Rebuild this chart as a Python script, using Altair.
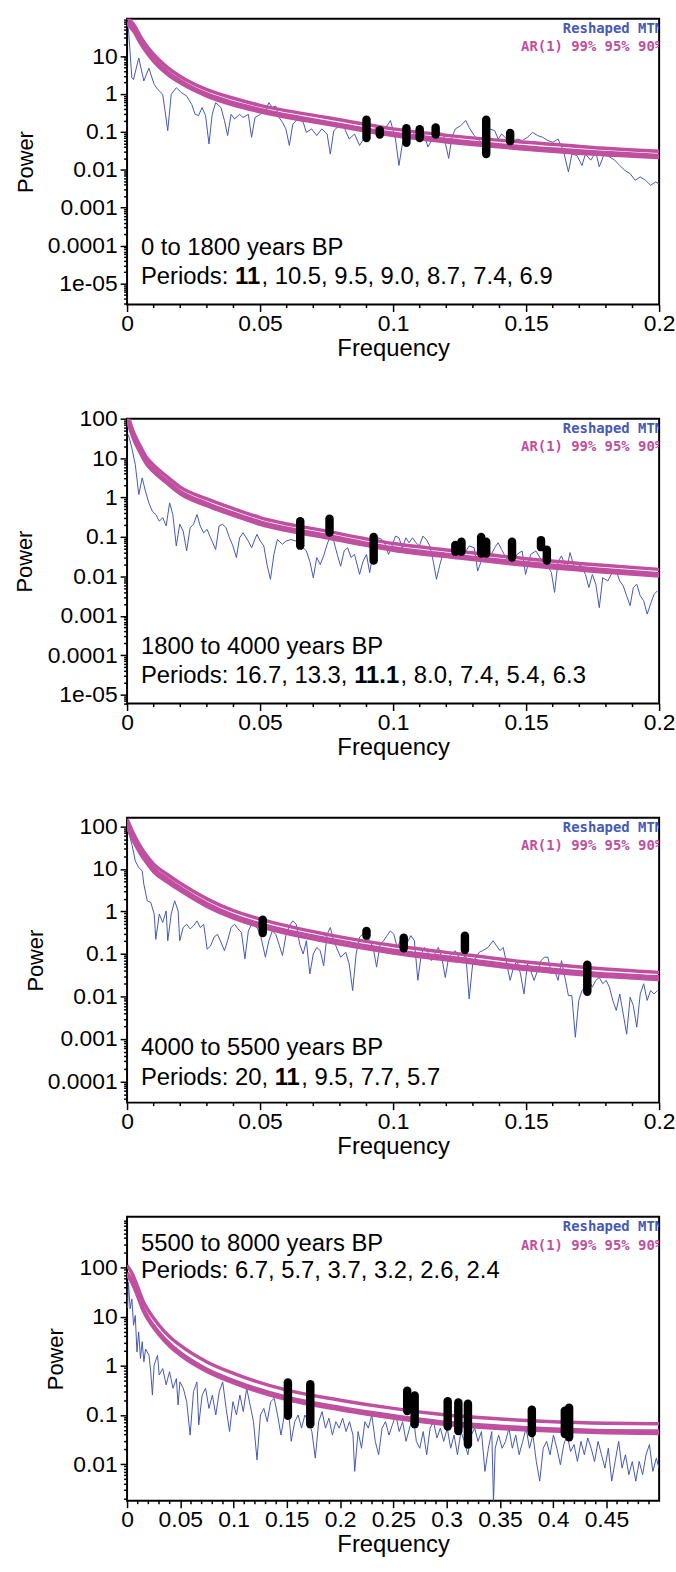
import altair as alt
import pandas as pd

BLUE = "#4658b8"
MAG = "#bf4f9f"
FONT = "Liberation Sans"
MONO = "DejaVu Sans Mono"
W = 536

# ---------------- Panel 1 : 0 to 1800 years BP ----------------
P1_SPEC = [(0.0005, 54), (0.0018, 2.7), (0.0024, 2.4), (0.0044, 8.9), (0.0063, 2.2), (0.0082, 4.8), (0.0102, 1.78),
           (0.0115, 1.32), (0.0134, 0.98), (0.0153, 0.108), (0.0166, 0.98), (0.0185, 1.46), (0.0205, 1.08), (0.0224, 0.88),
           (0.0243, 0.53), (0.0256, 0.29), (0.0269, 0.27), (0.0282, 0.44), (0.0295, 0.27), (0.0308, 0.048), (0.0320, 0.29),
           (0.0333, 0.59), (0.0353, 0.44), (0.0366, 0.20), (0.0378, 0.080), (0.0391, 0.29), (0.0404, 0.22), (0.0423, 0.29),
           (0.0436, 0.24), (0.0456, 0.29), (0.0468, 0.072), (0.0481, 0.24), (0.0501, 0.29), (0.0520, 0.36), (0.0533, 0.59),
           (0.0546, 0.44), (0.0559, 0.48), (0.0571, 0.24), (0.0584, 0.18), (0.0597, 0.12), (0.0610, 0.044), (0.0623, 0.16),
           (0.0642, 0.22), (0.0662, 0.18), (0.0674, 0.097), (0.0694, 0.12), (0.0713, 0.080), (0.0732, 0.12), (0.0752, 0.088),
           (0.0764, 0.026), (0.0777, 0.108), (0.0797, 0.145), (0.0816, 0.13), (0.0835, 0.065), (0.0855, 0.088), (0.0874, 0.044),
           (0.0893, 0.072), (0.0912, 0.097), (0.0932, 0.12), (0.0951, 0.13), (0.0970, 0.12), (0.0990, 0.20), (0.1009, 0.065),
           (0.1022, 0.013), (0.1035, 0.048), (0.1054, 0.108), (0.1073, 0.080), (0.1093, 0.13), (0.1112, 0.108), (0.1131, 0.040),
           (0.1151, 0.072), (0.1170, 0.097), (0.1189, 0.088), (0.1209, 0.020), (0.1221, 0.072), (0.1234, 0.12), (0.1254, 0.145),
           (0.1273, 0.20), (0.1286, 0.13), (0.1305, 0.080), (0.1324, 0.059), (0.1344, 0.048), (0.1363, 0.12), (0.1382, 0.108),
           (0.1395, 0.065), (0.1408, 0.088), (0.1427, 0.065), (0.1447, 0.053), (0.1466, 0.065), (0.1485, 0.059), (0.1505, 0.072),
           (0.1524, 0.097), (0.1543, 0.080), (0.1562, 0.072), (0.1582, 0.059), (0.1601, 0.053), (0.1620, 0.065), (0.1640, 0.032),
           (0.1659, 0.0088), (0.1672, 0.026), (0.1691, 0.024), (0.1710, 0.013), (0.1723, 0.026), (0.1743, 0.018), (0.1762, 0.029),
           (0.1775, 0.012), (0.1794, 0.026), (0.1813, 0.022), (0.1833, 0.018), (0.1852, 0.013), (0.1871, 0.0097), (0.1891, 0.0079),
           (0.1910, 0.0053), (0.1929, 0.0065), (0.1949, 0.0053), (0.1968, 0.0039), (0.1987, 0.0048), (0.2000, 0.0042)]
AR_F = [0, 0.0025, 0.005, 0.0075, 0.01, 0.015, 0.02, 0.03, 0.04, 0.05, 0.075, 0.1, 0.125, 0.15, 0.175, 0.2]
P1_AR99 = [105, 68, 33, 18, 11, 5.1, 2.9, 1.3, 0.77, 0.5, 0.24, 0.12, 0.075, 0.053, 0.039, 0.031]
P1_AR95 = [80, 52, 25, 14, 8.4, 3.9, 2.25, 1.0, 0.59, 0.39, 0.18, 0.092, 0.058, 0.040, 0.030, 0.024]
P1_AR90 = [70, 45, 22, 12, 7.3, 3.4, 1.96, 0.88, 0.51, 0.34, 0.16, 0.080, 0.050, 0.035, 0.026, 0.021]
P1_BARS = [(0.090, 0.21, 0.069), (0.095, 0.11, 0.085), (0.105, 0.125, 0.052), (0.110, 0.118, 0.069),
           (0.116, 0.13, 0.085), (0.135, 0.21, 0.026), (0.144, 0.094, 0.057)]

# ---------------- Panel 2 : 1800 to 4000 years BP ----------------
P2_SPEC = [(0.0005, 39), (0.0018, 18), (0.0031, 6.8), (0.0044, 1.19), (0.0057, 3.15), (0.0069, 1.45), (0.0082, 0.73),
           (0.0095, 0.45), (0.0108, 0.37), (0.0121, 0.25), (0.0134, 0.31), (0.0147, 0.19), (0.0160, 0.73), (0.0172, 0.37),
           (0.0185, 0.059), (0.0198, 0.21), (0.0211, 0.14), (0.0224, 0.044), (0.0237, 0.17), (0.0250, 0.21), (0.0263, 0.37),
           (0.0275, 0.19), (0.0288, 0.127), (0.0301, 0.155), (0.0314, 0.095), (0.0333, 0.048), (0.0346, 0.19), (0.0359, 0.21),
           (0.0372, 0.17), (0.0385, 0.095), (0.0398, 0.059), (0.0411, 0.030), (0.0423, 0.095), (0.0436, 0.127), (0.0456, 0.078),
           (0.0468, 0.053), (0.0488, 0.116), (0.0501, 0.078), (0.0514, 0.059), (0.0526, 0.020), (0.0539, 0.0084), (0.0552, 0.036),
           (0.0565, 0.086), (0.0584, 0.065), (0.0597, 0.078), (0.0616, 0.086), (0.0636, 0.078), (0.0649, 0.059), (0.0662, 0.053),
           (0.0674, 0.044), (0.0687, 0.024), (0.0700, 0.0092), (0.0713, 0.030), (0.0726, 0.020), (0.0739, 0.033), (0.0752, 0.065),
           (0.0764, 0.105), (0.0777, 0.078), (0.0790, 0.036), (0.0803, 0.018), (0.0816, 0.044), (0.0829, 0.053), (0.0842, 0.030),
           (0.0855, 0.036), (0.0874, 0.0112), (0.0887, 0.024), (0.0900, 0.036), (0.0912, 0.0124), (0.0925, 0.040), (0.0945, 0.095),
           (0.0958, 0.086), (0.0970, 0.065), (0.0983, 0.036), (0.0996, 0.059), (0.1009, 0.105), (0.1022, 0.095), (0.1035, 0.053),
           (0.1048, 0.095), (0.1060, 0.071), (0.1073, 0.095), (0.1086, 0.071), (0.1099, 0.059), (0.1112, 0.105), (0.1125, 0.086),
           (0.1138, 0.059), (0.1151, 0.024), (0.1163, 0.0084), (0.1176, 0.020), (0.1189, 0.040), (0.1209, 0.030), (0.1228, 0.040),
           (0.1247, 0.059), (0.1266, 0.036), (0.1286, 0.059), (0.1305, 0.053), (0.1318, 0.0136), (0.1331, 0.024), (0.1350, 0.036),
           (0.1369, 0.036), (0.1382, 0.053), (0.1395, 0.071), (0.1408, 0.048), (0.1427, 0.027), (0.1447, 0.022), (0.1466, 0.036),
           (0.1485, 0.044), (0.1498, 0.0112), (0.1517, 0.036), (0.1537, 0.044), (0.1556, 0.027), (0.1575, 0.022), (0.1595, 0.0124),
           (0.1607, 0.0039), (0.1620, 0.024), (0.1633, 0.033), (0.1653, 0.015), (0.1665, 0.040), (0.1685, 0.0136), (0.1704, 0.020),
           (0.1723, 0.0112), (0.1736, 0.0052), (0.1749, 0.0112), (0.1762, 0.0063), (0.1775, 0.0016), (0.1788, 0.0092),
           (0.1807, 0.0076), (0.1820, 0.0112), (0.1839, 0.0136), (0.1852, 0.0076), (0.1865, 0.0057), (0.1878, 0.0032),
           (0.1891, 0.0018), (0.1903, 0.0052), (0.1916, 0.0063), (0.1929, 0.0032), (0.1942, 0.0024), (0.1955, 0.0011),
           (0.1968, 0.0020), (0.1981, 0.0035), (0.1994, 0.0043)]
P2_AR99 = [140, 44, 20, 10, 6.6, 3.4, 1.84, 0.92, 0.52, 0.31, 0.14, 0.068, 0.043, 0.028, 0.020, 0.015]
P2_AR95 = [109, 35, 15.5, 7.8, 5.2, 2.6, 1.43, 0.71, 0.40, 0.24, 0.11, 0.053, 0.033, 0.022, 0.0155, 0.0117]
P2_AR90 = [95, 30, 13.5, 6.8, 4.5, 2.3, 1.24, 0.62, 0.35, 0.21, 0.095, 0.046, 0.029, 0.019, 0.0135, 0.0102]
P2_BARS = [(0.0651, 0.25, 0.06), (0.0761, 0.29, 0.13), (0.0927, 0.10, 0.025), (0.1234, 0.062, 0.042),
           (0.1257, 0.075, 0.042), (0.1331, 0.10, 0.038), (0.1350, 0.075, 0.038), (0.1447, 0.075, 0.030),
           (0.1556, 0.083, 0.055), (0.1578, 0.047, 0.025)]

# ---------------- Panel 3 : 4000 to 5500 years BP ----------------
P3_SPEC = [(0.0005, 78), (0.0018, 38), (0.0031, 15.4), (0.0044, 10.7), (0.0057, 9.0), (0.0063, 4.4), (0.0076, 1.78),
           (0.0089, 1.63), (0.0102, 0.87), (0.0108, 0.22), (0.0121, 0.87), (0.0134, 0.55), (0.0147, 1.03), (0.0153, 0.205),
           (0.0166, 0.87), (0.0179, 1.78), (0.0192, 1.03), (0.0198, 0.205), (0.0211, 0.42), (0.0224, 0.50), (0.0237, 0.39),
           (0.0250, 0.46), (0.0263, 0.60), (0.0275, 0.42), (0.0288, 0.50), (0.0301, 0.13), (0.0314, 0.155), (0.0327, 0.25),
           (0.0340, 0.29), (0.0353, 0.19), (0.0366, 0.12), (0.0378, 0.205), (0.0391, 0.42), (0.0404, 0.50), (0.0417, 0.39),
           (0.0430, 0.32), (0.0443, 0.077), (0.0456, 0.35), (0.0468, 0.50), (0.0488, 0.42), (0.0501, 0.29), (0.0520, 0.084),
           (0.0533, 0.205), (0.0546, 0.35), (0.0559, 0.29), (0.0571, 0.17), (0.0584, 0.092), (0.0597, 0.27), (0.0610, 0.46),
           (0.0623, 0.60), (0.0636, 0.50), (0.0649, 0.17), (0.0662, 0.10), (0.0674, 0.205), (0.0687, 0.034), (0.0700, 0.10),
           (0.0713, 0.143), (0.0726, 0.12), (0.0739, 0.053), (0.0752, 0.29), (0.0764, 0.42), (0.0777, 0.205), (0.0790, 0.13),
           (0.0803, 0.084), (0.0822, 0.11), (0.0835, 0.058), (0.0848, 0.0138), (0.0861, 0.10), (0.0874, 0.25), (0.0893, 0.32),
           (0.0912, 0.205), (0.0925, 0.143), (0.0938, 0.049), (0.0951, 0.17), (0.0964, 0.205), (0.0977, 0.27), (0.0990, 0.35),
           (0.1003, 0.29), (0.1015, 0.143), (0.1028, 0.205), (0.1041, 0.25), (0.1054, 0.19), (0.1067, 0.27), (0.1080, 0.205),
           (0.1093, 0.024), (0.1106, 0.10), (0.1118, 0.143), (0.1131, 0.11), (0.1144, 0.070), (0.1157, 0.10), (0.1170, 0.143),
           (0.1183, 0.084), (0.1196, 0.028), (0.1209, 0.084), (0.1221, 0.10), (0.1234, 0.12), (0.1247, 0.084), (0.1260, 0.070),
           (0.1273, 0.10), (0.1286, 0.0088), (0.1299, 0.058), (0.1311, 0.084), (0.1324, 0.11), (0.1337, 0.12), (0.1357, 0.143),
           (0.1376, 0.205), (0.1389, 0.155), (0.1402, 0.12), (0.1414, 0.143), (0.1427, 0.058), (0.1440, 0.024), (0.1453, 0.049),
           (0.1466, 0.070), (0.1479, 0.034), (0.1492, 0.0115), (0.1505, 0.058), (0.1517, 0.041), (0.1530, 0.024), (0.1543, 0.041),
           (0.1556, 0.070), (0.1569, 0.084), (0.1582, 0.084), (0.1595, 0.034), (0.1607, 0.041), (0.1620, 0.024), (0.1633, 0.070),
           (0.1646, 0.028), (0.1659, 0.0105), (0.1672, 0.0105), (0.1685, 0.0011), (0.1698, 0.0081), (0.1710, 0.0138),
           (0.1723, 0.0166), (0.1736, 0.024), (0.1749, 0.0166), (0.1762, 0.024), (0.1775, 0.028), (0.1788, 0.020), (0.1801, 0.024),
           (0.1813, 0.0166), (0.1826, 0.0081), (0.1839, 0.0047), (0.1852, 0.0115), (0.1865, 0.0039), (0.1878, 0.0013),
           (0.1891, 0.0096), (0.1903, 0.0061), (0.1916, 0.0019), (0.1929, 0.0115), (0.1942, 0.020), (0.1955, 0.0081),
           (0.1968, 0.0138), (0.1981, 0.0115), (0.1994, 0.0138)]
P3_AR99 = [150, 66, 34, 20, 12.9, 7.5, 4.6, 1.98, 1.04, 0.66, 0.29, 0.158, 0.100, 0.065, 0.047, 0.037]
P3_AR95 = [115, 51, 26.5, 15.8, 10.1, 5.9, 3.6, 1.54, 0.81, 0.51, 0.23, 0.123, 0.078, 0.050, 0.036, 0.029]
P3_AR90 = [100, 44, 23, 13.6, 8.6, 5.0, 3.1, 1.32, 0.70, 0.44, 0.195, 0.106, 0.067, 0.043, 0.031, 0.025]
P3_BARS = [(0.051, 0.64, 0.31), (0.090, 0.35, 0.27), (0.104, 0.24, 0.136), (0.127, 0.27, 0.124), (0.173, 0.056, 0.013)]

# ---------------- Panel 4 : 5500 to 8000 years BP ----------------
P4_SPEC = [(0.0005, 15), (0.0013, 50), (0.0029, 14.5), (0.0045, 23), (0.0061, 6.7), (0.0077, 10.6), (0.0093, 1.92),
           (0.0109, 4.9), (0.0126, 1.41), (0.0142, 3.1), (0.0158, 1.21), (0.0174, 2.2), (0.0206, 1.64), (0.0222, 0.76),
           (0.0238, 0.254), (0.0254, 1.03), (0.0286, 1.64), (0.0302, 0.65), (0.0335, 0.88), (0.0367, 0.41), (0.0399, 0.76),
           (0.0431, 0.35), (0.0463, 0.55), (0.0479, 0.16), (0.0496, 0.47), (0.0528, 0.35), (0.0560, 0.186), (0.0592, 0.039),
           (0.0624, 0.30), (0.0656, 0.47), (0.0673, 0.063), (0.0705, 0.254), (0.0737, 0.35), (0.0769, 0.136), (0.0801, 0.254),
           (0.0833, 0.10), (0.0866, 0.30), (0.0898, 0.47), (0.0930, 0.136), (0.0962, 0.046), (0.0994, 0.186), (0.1027, 0.10),
           (0.1059, 0.254), (0.1091, 0.117), (0.1123, 0.35), (0.1155, 0.16), (0.1187, 0.073), (0.1220, 0.0122), (0.1252, 0.10),
           (0.1284, 0.136), (0.1316, 0.073), (0.1348, 0.186), (0.1381, 0.218), (0.1413, 0.10), (0.1445, 0.039), (0.1477, 0.10),
           (0.1509, 0.186), (0.1541, 0.029), (0.1574, 0.073), (0.1606, 0.10), (0.1638, 0.054), (0.1670, 0.10), (0.1702, 0.073),
           (0.1735, 0.046), (0.1767, 0.0132), (0.1799, 0.073), (0.1831, 0.117), (0.1863, 0.054), (0.1895, 0.086), (0.1928, 0.039),
           (0.1960, 0.073), (0.1992, 0.054), (0.2024, 0.086), (0.2056, 0.046), (0.2088, 0.073), (0.2121, 0.039), (0.2137, 0.0071),
           (0.2169, 0.046), (0.2201, 0.021), (0.2233, 0.073), (0.2265, 0.054), (0.2298, 0.10), (0.2330, 0.029), (0.2362, 0.0155),
           (0.2394, 0.054), (0.2426, 0.073), (0.2459, 0.039), (0.2491, 0.063), (0.2523, 0.10), (0.2555, 0.046), (0.2587, 0.073),
           (0.2619, 0.029), (0.2652, 0.054), (0.2684, 0.10), (0.2716, 0.029), (0.2748, 0.021), (0.2780, 0.046), (0.2813, 0.0155),
           (0.2845, 0.054), (0.2877, 0.073), (0.2909, 0.034), (0.2941, 0.054), (0.2973, 0.029), (0.3006, 0.054), (0.3038, 0.021),
           (0.3070, 0.039), (0.3102, 0.0155), (0.3134, 0.046), (0.3167, 0.029), (0.3199, 0.0155), (0.3231, 0.039), (0.3263, 0.054),
           (0.3295, 0.029), (0.3327, 0.046), (0.3360, 0.0071), (0.3392, 0.021), (0.3424, 0.046), (0.3440, 0.0017), (0.3456, 0.021),
           (0.3488, 0.039), (0.3521, 0.021), (0.3553, 0.029), (0.3585, 0.054), (0.3617, 0.021), (0.3649, 0.039), (0.3681, 0.0155),
           (0.3714, 0.029), (0.3746, 0.054), (0.3778, 0.021), (0.3810, 0.039), (0.3842, 0.0113), (0.3874, 0.0045), (0.3907, 0.021),
           (0.3939, 0.029), (0.3971, 0.0155), (0.4003, 0.039), (0.4035, 0.021), (0.4068, 0.0097), (0.4100, 0.025), (0.4132, 0.039),
           (0.4164, 0.018), (0.4196, 0.025), (0.4228, 0.0113), (0.4261, 0.029), (0.4293, 0.0155), (0.4325, 0.034), (0.4357, 0.021),
           (0.4389, 0.0113), (0.4422, 0.029), (0.4454, 0.0155), (0.4486, 0.0083), (0.4518, 0.021), (0.4550, 0.0045),
           (0.4582, 0.0113), (0.4615, 0.029), (0.4647, 0.0083), (0.4679, 0.0155), (0.4711, 0.0061), (0.4743, 0.0113),
           (0.4776, 0.0045), (0.4808, 0.0113), (0.4840, 0.0061), (0.4872, 0.0155), (0.4904, 0.025), (0.4936, 0.0071),
           (0.4969, 0.0132), (0.4994, 0.0083)]
AR_F4 = [0, 0.005, 0.01, 0.015, 0.02, 0.03, 0.04, 0.05, 0.075, 0.1, 0.15, 0.2, 0.25, 0.3, 0.35, 0.4, 0.45, 0.5]
P4_AR99 = [110, 74, 40, 21, 13.4, 6.7, 3.9, 2.6, 1.2, 0.70, 0.32, 0.20, 0.136, 0.10, 0.083, 0.073, 0.068, 0.066]
P4_AR95 = [78, 53, 28, 15, 9.5, 4.8, 2.8, 1.85, 0.85, 0.50, 0.23, 0.142, 0.097, 0.071, 0.059, 0.052, 0.048, 0.047]
P4_AR90 = [70, 47, 26, 13.5, 8.6, 4.3, 2.5, 1.66, 0.77, 0.45, 0.205, 0.128, 0.087, 0.064, 0.053, 0.047, 0.0435, 0.042]
P4_BARS = [(0.151, 0.46, 0.096), (0.172, 0.42, 0.065), (0.263, 0.31, 0.12), (0.270, 0.25, 0.065), (0.301, 0.19, 0.058),
           (0.311, 0.18, 0.047), (0.320, 0.17, 0.025), (0.380, 0.128, 0.043), (0.411, 0.122, 0.041), (0.415, 0.14, 0.035)]

# ---------------- Axis ticks ----------------
X_MAJOR_1 = [0, 0.05, 0.1, 0.15, 0.2]
X_MAJOR_4 = [0, 0.05, 0.1, 0.15, 0.2, 0.25, 0.3, 0.35, 0.4, 0.45]
X_MINOR_1 = [round(i * 0.01, 2) for i in range(21) if i % 5]
X_MINOR_4 = [round(i * 0.01, 2) for i in range(50) if i % 5]

# ---------------- Text ----------------
TITLES = ["0 to 1800 years BP", "1800 to 4000 years BP", "4000 to 5500 years BP", "5500 to 8000 years BP"]
# (text, bold, x offset in px from the start of the line)
PERIODS = [
    [("Periods: ", False, 0), ("11", True, 94.7), (", 10.5, 9.5, 9.0, 8.7, 7.4, 6.9", False, 121.4)],
    [("Periods: 16.7, 13.3, ", False, 0), ("11.1", True, 214.8), (", 8.0, 7.4, 5.4, 6.3", False, 261.5)],
    [("Periods: 20, ", False, 0), ("11", True, 134.7), (", 9.5, 7.7, 5.7", False, 161.4)],
    [("Periods: 6.7, 5.7, 3.7, 3.2, 2.6, 2.4", False, 0)],
]
LEGEND = [("Reshaped MTM", BLUE), ("AR(1) 99% 95% 90%", MAG)]

MAJOR_Y = "abs(log(datum.value)/LN10 - round(log(datum.value)/LN10)) < 0.01"
Y_LABEL = ("abs(log(datum.value)/LN10 - round(log(datum.value)/LN10)) > 0.01 ? '' : "
           "(datum.value < 0.00005 ? '1e-05' : format(datum.value, '~g'))")


def y_tick_values(lo, hi, top_major):
    vals = []
    for e in range(-7, 4):
        for m in range(1, 10):
            v = m * 10.0 ** e
            if lo <= v <= hi * 1.0001 and not (m == 1 and v > top_major * 1.0001):
                vals.append(v)
    return vals


def make_panel(spec, ar_f, ar99, ar95, ar90, bars, xmax, xmajor, xminor, ydom, top_major, height, idx,
               title_y, periods_y, ytitle_x):
    xscale = alt.Scale(domain=[0, xmax], nice=False, zero=False)
    yscale = alt.Scale(type="log", domain=ydom, nice=False)
    xaxis = alt.Axis(title="Frequency", values=xmajor, format="~g", labelOverlap=False, labelFlush=False,
                     tickSize=7)
    yaxis = alt.Axis(title="Power", values=y_tick_values(ydom[0], ydom[1], top_major), labelExpr=Y_LABEL,
                     labelOverlap=False, labelFlush=False, titleX=ytitle_x, titleBaseline="middle",
                     labelFontSize={"condition": {"test": MAJOR_Y, "value": 23}, "value": 0},
                     tickSize={"condition": {"test": MAJOR_Y, "value": 7}, "value": 3.5})

    sdf = pd.DataFrame(spec, columns=["f", "p"])
    rows = []
    for lev, vals in (("90%", ar90), ("95%", ar95), ("99%", ar99)):
        for f, p in zip(ar_f, vals):
            rows.append({"f": f, "p": p, "level": lev})
    adf = pd.DataFrame(rows)
    bdf = pd.DataFrame(bars, columns=["f", "hi", "lo"])
    mdf = pd.DataFrame({"v": xminor})

    blue = alt.Chart(sdf).mark_line(color=BLUE, strokeWidth=1, clip=True).encode(
        x=alt.X("f:Q", scale=xscale, axis=xaxis),
        y=alt.Y("p:Q", scale=yscale, axis=yaxis),
    )
    ar = alt.Chart(adf).mark_line(color=MAG, strokeWidth=3.5, clip=True, interpolate="monotone").encode(
        x=alt.X("f:Q", scale=xscale, axis=xaxis),
        y=alt.Y("p:Q", scale=yscale, axis=yaxis),
        detail="level:N",
    )
    bar = alt.Chart(bdf).mark_rule(color="black", strokeWidth=8.5, strokeCap="round").encode(
        x=alt.X("f:Q", scale=xscale, axis=xaxis),
        y=alt.Y("hi:Q", scale=yscale, axis=yaxis),
        y2="lo:Q",
    )
    minor = alt.Chart(mdf).mark_rule(color="black", strokeWidth=1.5).encode(
        x=alt.X("v:Q", scale=xscale, axis=xaxis),
        y=alt.value(height),
        y2=alt.value(height + 3.5),
    )
    layers = [blue, ar, bar, minor]

    for i, (txt, col) in enumerate(LEGEND):
        layers.append(
            alt.Chart(pd.DataFrame({"t": [txt]})).mark_text(
                align="right", baseline="alphabetic", font=MONO, fontSize=14, fontWeight="bold",
                color=col, clip=True
            ).encode(x=alt.value(W + 4), y=alt.value(14 + 19 * i), text="t:N")
        )
    layers.append(
        alt.Chart(pd.DataFrame({"t": [TITLES[idx]]})).mark_text(
            align="left", baseline="alphabetic", font=FONT, fontSize=24, color="black"
        ).encode(x=alt.value(14), y=alt.value(title_y), text="t:N")
    )
    for txt, bold, dx in PERIODS[idx]:
        layers.append(
            alt.Chart(pd.DataFrame({"t": [txt]})).mark_text(
                align="left", baseline="alphabetic", font=FONT, fontSize=24, color="black",
                fontWeight="bold" if bold else "normal"
            ).encode(x=alt.value(14 + dx), y=alt.value(periods_y), text="t:N")
        )
    return alt.layer(*layers).properties(width=W, height=height)


p1 = make_panel(P1_SPEC, AR_F, P1_AR99, P1_AR95, P1_AR90, P1_BARS, 0.2, X_MAJOR_1, X_MINOR_1,
                [2.8e-6, 97], 10, 288, 0, 288 - 50, 288 - 21, -102)
p2 = make_panel(P2_SPEC, AR_F, P2_AR99, P2_AR95, P2_AR90, P2_BARS, 0.2, X_MAJOR_1, X_MINOR_1,
                [5.9e-6, 100], 100, 287, 1, 287 - 50, 287 - 21, -103)
p3 = make_panel(P3_SPEC, AR_F, P3_AR99, P3_AR95, P3_AR90, P3_BARS, 0.2, X_MAJOR_1, X_MINOR_1,
                [3.2e-5, 160], 100, 287, 2, 287 - 48, 287 - 18, -92)
p4 = make_panel(P4_SPEC, AR_F4, P4_AR99, P4_AR95, P4_AR90, P4_BARS, 0.4995, X_MAJOR_4, X_MINOR_4,
                [0.0018, 1080], 100, 286, 3, 34, 62, -72)

chart = alt.vconcat(p1, p2, p3, p4, spacing=115, bounds="flush").properties(
    padding={"left": 13, "top": 12, "right": 0, "bottom": 0},
    background="white",
).configure_view(
    stroke="black", strokeWidth=2
).configure_axis(
    domain=False, grid=False, labelFont=FONT, titleFont=FONT, labelFontSize=23, titleFontSize=24,
    labelColor="black", titleColor="black", tickColor="black", tickWidth=1.5, titleFontWeight="normal",
    labelFlush=False, labelOverlap=False,
).configure_axisY(
    titleFontSize=22, titlePadding=14, labelPadding=3
).configure_axisX(
    labelPadding=1, titlePadding=1
)

chart.save("out.html", embed_options={"renderer": "svg", "actions": False})
